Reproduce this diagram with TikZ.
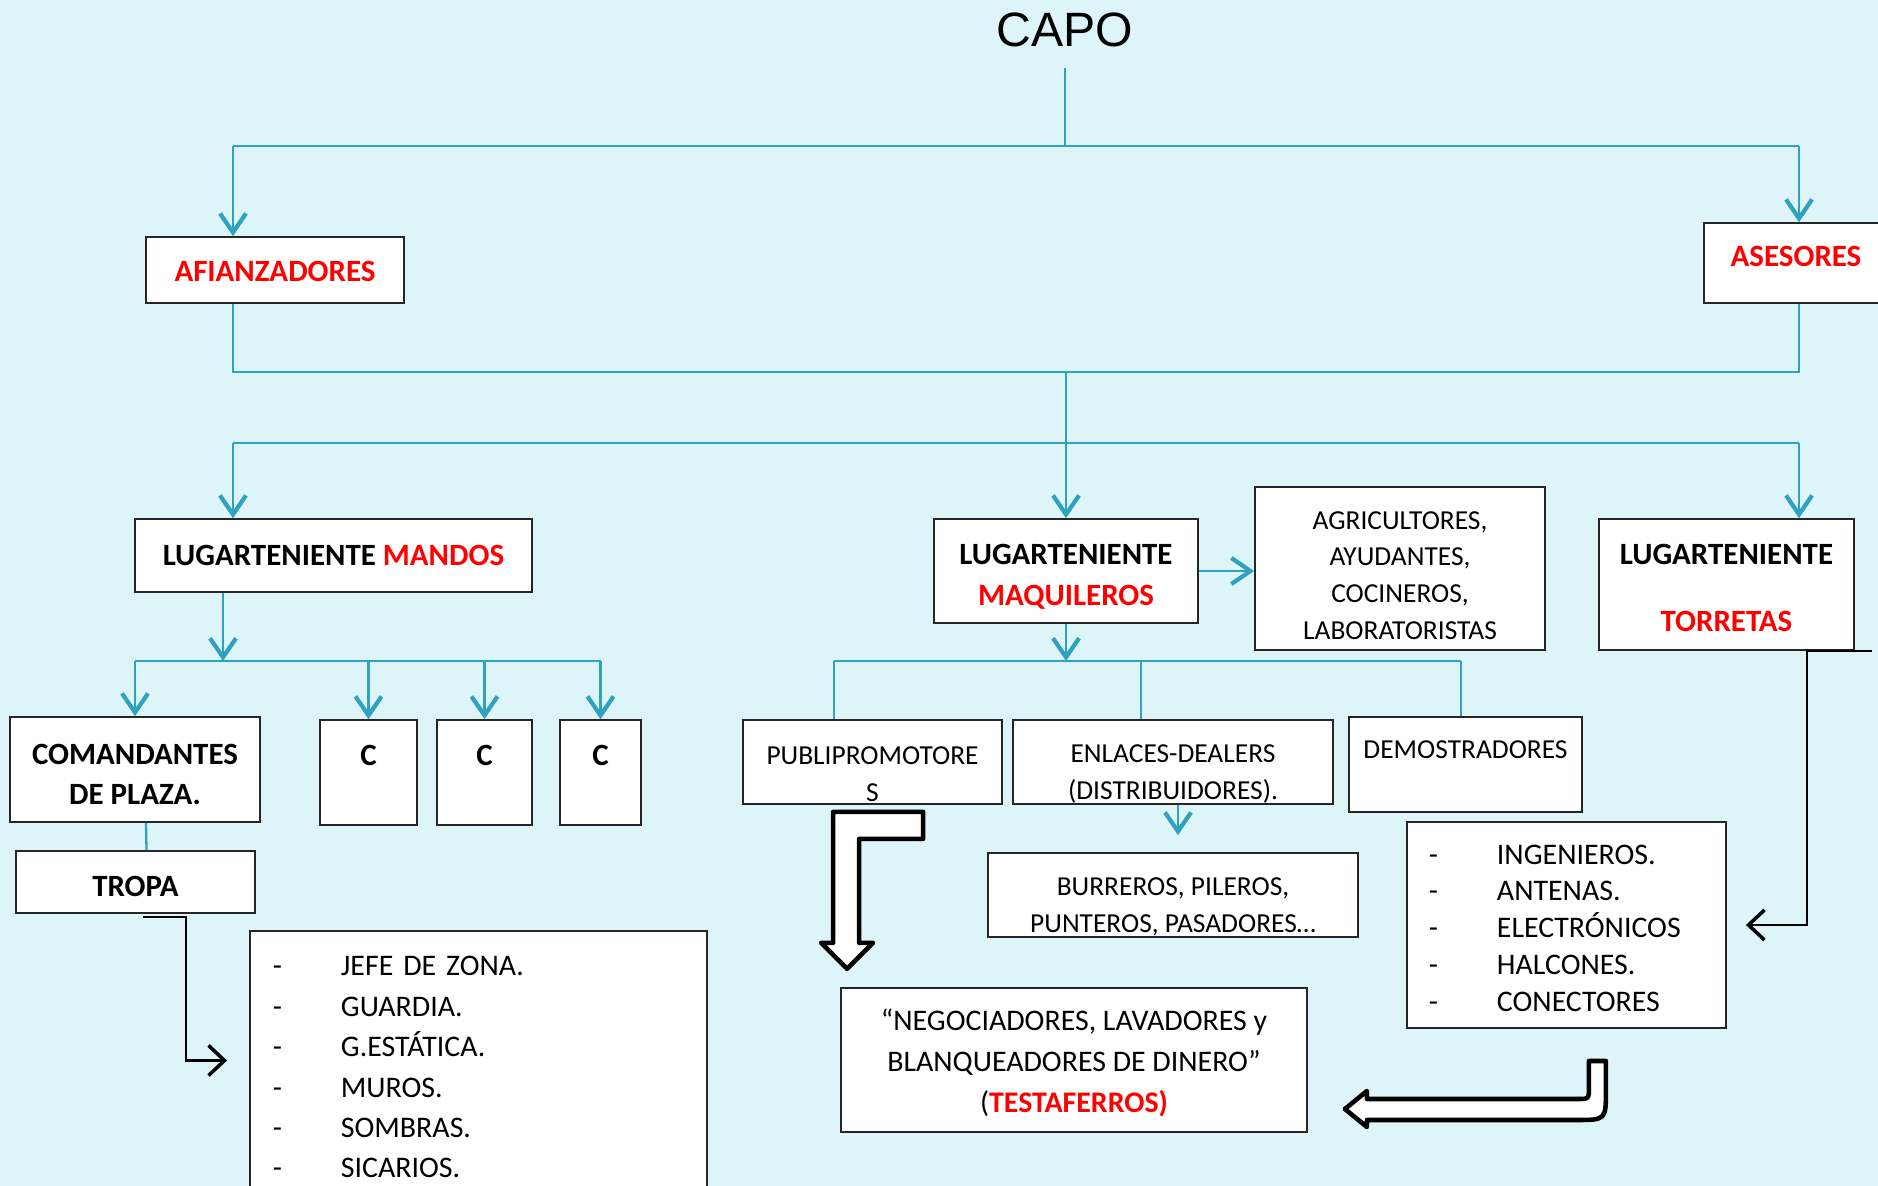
\documentclass[tikz,border=0pt]{standalone}
\usepackage{fontspec}
\setmainfont{Carlito}
\newfontfamily\arialfont{Liberation Sans}
\usepackage{xcolor}
\usepackage{tikz}
\usetikzlibrary{arrows.meta}
\usetikzlibrary{calc}
\usetikzlibrary{positioning}

\definecolor{fondo}{HTML}{DDF4F9}
\definecolor{azul}{HTML}{2FA2C1}
\newcommand{\guion}{\makebox[0.68cm][l]{-}}
\newcommand{\arriba}[1]{\rule{0pt}{#1}}

\begin{document}
\begin{tikzpicture}[x=0.01cm, y=-0.01cm]
	\tikzstyle{caja}=[draw=black!85, line width=0.45pt, fill=white, inner sep=0pt, align=center, font=\fontsize{8.5}{10.5}\selectfont]
	\tikzstyle{cajab}=[caja, font=\fontsize{8.8}{10.5}\selectfont\bfseries]
	\tikzstyle{cajap}=[caja, font=\fontsize{7.8}{10.5}\selectfont]
	\tikzstyle{linea}=[draw=azul, line width=0.65pt]
	\tikzstyle{flecha}=[linea, -{Straight Barb[length=0.19cm, width=0.26cm, line width=1.2pt]}]
	\tikzstyle{negra}=[draw=black, line width=0.7pt, -{Straight Barb[length=0.16cm, width=0.3cm, line width=1pt]}]
	\tikzstyle{bloque}=[draw=black, line width=1.3pt, fill=white, line join=round]
	\useasboundingbox (0,0) rectangle (1878,1186);
	\fill[fondo] (0,0) rectangle (1878,1186);

	\node[font=\arialfont\fontsize{13.7}{16}\selectfont, inner ysep=0.2cm] (capo) at (1065,30) {CAPO};
	\node[cajab, minimum width=2.58cm, minimum height=0.66cm] (afi) at (275,270) {\arriba{0.24cm}\textcolor{red}{AFIANZADORES}};
	\node[cajab, minimum width=1.84cm, minimum height=0.8cm, text height=0.2cm, text depth=0.13cm] (ase) at (1796,263) {\textcolor{red}{ASESORES}};
	\node[cajab, minimum width=3.97cm, minimum height=0.73cm] (mandos) at (333.5,555.5) {LUGARTENIENTE \textcolor{red}{MANDOS}};
	\node[cajab, minimum width=2.64cm, minimum height=1.04cm, font=\fontsize{8.8}{11.5}\selectfont\bfseries] (maq) at (1066,571) {\arriba{0.32cm}LUGARTENIENTE\\\textcolor{red}{MAQUILEROS}};
	\node[cajap, minimum width=2.9cm, minimum height=1.63cm] (agri) at (1400,568.5) {\arriba{0.32cm}AGRICULTORES,\\AYUDANTES,\\COCINEROS,\\LABORATORISTAS};
	\node[cajab, minimum width=2.55cm, minimum height=1.31cm] (torr) at (1726.5,584.5) {\arriba{0.27cm}LUGARTENIENTE\\[8.5pt]\textcolor{red}{TORRETAS}};
	\node[cajab, minimum width=2.5cm, minimum height=1.05cm, font=\fontsize{8.8}{11.5}\selectfont\bfseries] (com) at (135,769.5) {\arriba{0.3cm}COMANDANTES\\DE PLAZA.};
	\node[cajab, minimum width=2.39cm, minimum height=0.62cm] (tropa) at (135.5,882) {\arriba{0.3cm}TROPA};
	\node[caja, text width=4.11cm, inner xsep=0.23cm, minimum height=2.59cm, align=left, font=\fontsize{8.5}{11.5}\selectfont] (lista) at (478.5,1060.5)
		{\arriba{0.33cm}\guion JEFE DE ZONA.\\\guion GUARDIA.\\\guion G.ESTÁTICA.\\\guion MUROS.\\\guion SOMBRAS.\\\guion SICARIOS.};
	\node[cajap, minimum width=2.59cm, minimum height=0.84cm] (pub) at (872.5,762) {\arriba{0.42cm}PUBLIPROMOTORE\\S};
	\node[cajap, minimum width=3.2cm, minimum height=0.84cm] (enl) at (1173,762) {\arriba{0.42cm}ENLACES-DEALERS\\(DISTRIBUIDORES).};
	\node[cajap, minimum width=2.33cm, minimum height=0.95cm, text height=0.2cm, text depth=0.31cm] (dem) at (1465.5,764.5) {DEMOSTRADORES};
	\node[cajap, minimum width=3.7cm, minimum height=0.84cm] (burr) at (1173,895) {\arriba{0.42cm}BURREROS, PILEROS,\\PUNTEROS, PASADORES…};
	\node[caja, minimum width=4.66cm, minimum height=1.44cm, font=\fontsize{8.5}{11.6}\selectfont] (neg) at (1074,1060)
		{\arriba{0.28cm}“NEGOCIADORES, LAVADORES y\\BLANQUEADORES DE DINERO”\\(\textcolor{red}{\textbf{TESTAFERROS)}}};
	\node[caja, text width=2.75cm, inner xsep=0.22cm, minimum height=2.06cm, align=left] (ing) at (1566.5,925)
		{\arriba{0.26cm}\guion INGENIEROS.\\\guion ANTENAS.\\\guion ELECTRÓNICOS\\\guion HALCONES.\\\guion CONECTORES};

	\coordinate (tl) at (233,146);
	\coordinate (tr) at (1799,146);
	\coordinate (ml) at (233,372);
	\coordinate (mr) at (1799,372);
	\coordinate (bl) at (233,443);
	\coordinate (br) at (1799,443);
	\coordinate (mh) at (223,661);
	\coordinate (q1) at (834,661);
	\coordinate (q2) at (1141,661);
	\coordinate (q3) at (1461,661);

	\draw[linea] (capo.south) -- (capo.south |- tl);
	\draw[linea] (tl) -- (tr);
	\draw[flecha] (tl) -- (tl |- afi.north);
	\draw[flecha] (tr) -- (tr |- ase.north);
	\draw[linea] (tl |- afi.south) -- (ml) -- (mr) -- (tr |- ase.south);
	\draw[flecha] (maq.north |- ml) -- (maq.north);
	\draw[linea] (bl) -- (br);
	\draw[flecha] (bl) -- (bl |- mandos.north);
	\draw[flecha] (br) -- (br |- torr.north);
	\draw[flecha] (maq.east) -- (maq.east -| agri.west);

	\draw[flecha] (mh |- mandos.south) -- (mh);
	\draw[flecha] (com.north |- mh) -- (com.north);
	\foreach \n/\x/\w in {c1/368.5/0.97, c2/484.5/0.95, c3/600.5/0.81}{
		\node[cajab, minimum width=\w cm, minimum height=1.05cm, text height=0.2cm, text depth=0.34cm] (\n) at (\x,772.5) {C};
		\draw[flecha] (\n.north |- mh) -- (\n.north);
	}
	\draw[linea] (com.north |- mh) -- (c3.north |- mh);
	\draw[linea] ([xshift=0.11cm]com.south) -- ([xshift=0.11cm]tropa.north);
	\draw[negra] ([xshift=0.07cm, yshift=-0.03cm]tropa.south) -| ([xshift=-0.63cm]lista.west) -- ([xshift=-0.22cm]lista.west);

	\draw[flecha] (maq.south) -- (maq.south |- q1);
	\draw[linea] (q1) -- (q3);
	\foreach \q/\n in {q1/pub, q2/enl, q3/dem}{
		\draw[linea] (\q) -- (\q |- \n.north);
	}
	\draw[flecha, line width=0.45pt] ([xshift=0.05cm]enl.south) -- ([xshift=0.05cm, yshift=0.17cm]burr.north);
	\draw[negra] ([xshift=0.17cm]torr.south east) -- ([xshift=-0.48cm]torr.south east) |- ([xshift=0.19cm]ing.east);

	\draw[bloque, shift={(pub.south west)}] (91,7) -- (181,7) -- (181,34) -- (117,34) -- (117,138) -- (131,138) -- (105,164) -- (79,138) -- (91,138) -- cycle;
	\draw[bloque, shift={(neg.east)}] (37,49) -- (59,31) -- (59,39) -- (269,39) .. controls (281,39) .. (281,27) -- (281,1) -- (298,1) -- (298,30) .. controls (298,60) .. (268,60) -- (59,60) -- (59,67) -- cycle;
\end{tikzpicture}
\end{document}
